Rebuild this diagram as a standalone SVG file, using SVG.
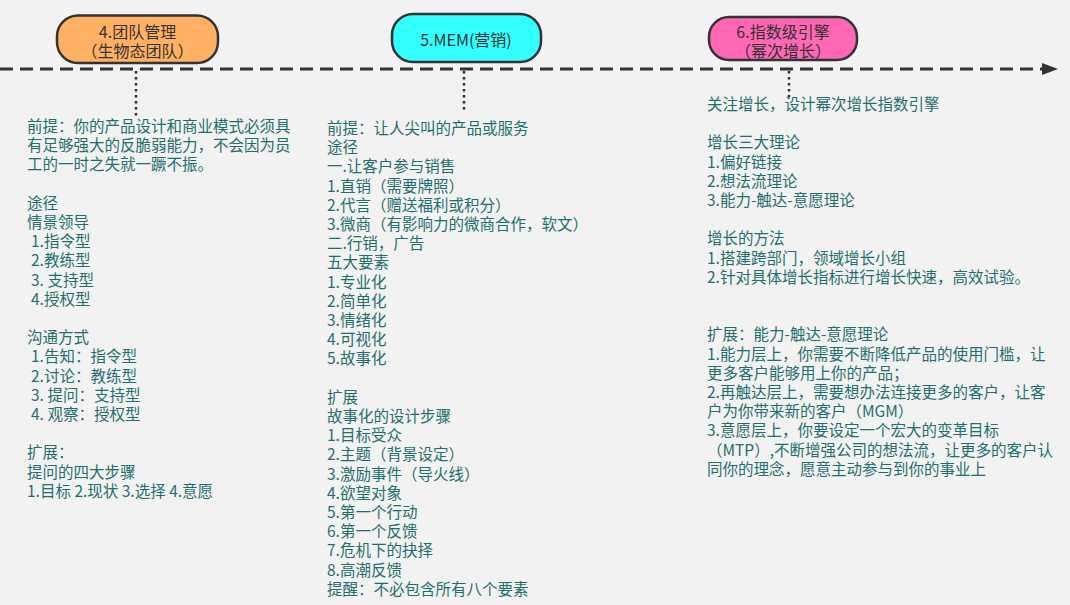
<svg xmlns="http://www.w3.org/2000/svg" width="1070" height="605" viewBox="0 0 1070 605">
<style>
.bg{fill:#f2f2f2}
.node{stroke:#333;stroke-width:2.5}
.nt{font-family:"Noto Sans CJK SC","Liberation Sans",sans-serif;font-size:16px;fill:#333;text-anchor:middle;dominant-baseline:central;text-spacing-trim:space-all}
.t{font-family:"Noto Sans CJK SC","Liberation Sans",sans-serif;font-size:15.5px;fill:#1f6f6f;dominant-baseline:central;text-spacing-trim:space-all}
.dot{stroke:#333;stroke-width:2.5;stroke-dasharray:2.5 3.5;fill:none}
.axis{stroke:#333;stroke-width:3;stroke-dasharray:13 7;fill:none}
</style>
<rect class="bg" x="0" y="0" width="1070" height="605"/>
<g id="connectors">
<line class="axis" x1="0" y1="69" x2="1044" y2="69"/>
<polygon points="1042,63 1058,69 1042,75" fill="#333"/>
<line class="dot" x1="136" y1="71" x2="136" y2="116"/>
<line class="dot" x1="464" y1="71" x2="464" y2="113"/>
<line class="dot" x1="789" y1="71" x2="789" y2="98"/>
</g>
<g id="node4">
<rect class="node" x="57" y="15.5" width="161" height="47.5" rx="21" fill="#ffb062"/>
<text class="nt"><tspan x="137.5" y="31">4.团队管理</tspan><tspan x="137.5" y="50">（生物态团队）</tspan></text>
</g>
<g id="node5">
<rect class="node" x="392" y="14" width="149" height="48" rx="21" fill="#33ffff"/>
<text class="nt" x="466" y="38.5">5.MEM(营销)</text>
</g>
<g id="node6">
<rect class="node" x="709" y="17" width="148" height="43" rx="20" fill="#ff66b3"/>
<text class="nt"><tspan x="783" y="31">6.指数级引擎</tspan><tspan x="783" y="50">（幂次增长）</tspan></text>
</g>
<g id="text4">
<text class="t"><tspan x="27" y="125">前提：你的产品设计和商业模式必须具</tspan><tspan x="27" y="144.2">有足够强大的反脆弱能力，不会因为员</tspan><tspan x="27" y="163.4">工的一时之失就一蹶不振。</tspan><tspan x="27" y="201.8">途径</tspan><tspan x="27" y="221">情景领导</tspan><tspan x="31" y="240.2">1.指令型</tspan><tspan x="31" y="259.4">2.教练型</tspan><tspan x="31" y="278.6">3. 支持型</tspan><tspan x="31" y="297.8">4.授权型</tspan><tspan x="27" y="336.2">沟通方式</tspan><tspan x="31" y="355.4">1.告知：指令型</tspan><tspan x="31" y="374.6">2.讨论：教练型</tspan><tspan x="31" y="393.8">3. 提问：支持型</tspan><tspan x="31" y="413">4. 观察：授权型</tspan><tspan x="27" y="451.4">扩展：</tspan><tspan x="27" y="470.6">提问的四大步骤</tspan><tspan x="27" y="489.8">1.目标 2.现状 3.选择 4.意愿</tspan></text>
</g>
<g id="text5">
<text class="t"><tspan x="327" y="127">前提：让人尖叫的产品或服务</tspan><tspan x="327" y="146.2">途径</tspan><tspan x="327" y="165.4">一.让客户参与销售</tspan><tspan x="327" y="184.6">1.直销（需要牌照）</tspan><tspan x="327" y="203.8">2.代言（赠送福利或积分）</tspan><tspan x="327" y="223">3.微商（有影响力的微商合作，软文）</tspan><tspan x="327" y="242.2">二.行销，广告</tspan><tspan x="327" y="261.4">五大要素</tspan><tspan x="327" y="280.6">1.专业化</tspan><tspan x="327" y="299.8">2.简单化</tspan><tspan x="327" y="319">3.情绪化</tspan><tspan x="327" y="338.2">4.可视化</tspan><tspan x="327" y="357.4">5.故事化</tspan><tspan x="327" y="395.8">扩展</tspan><tspan x="327" y="415">故事化的设计步骤</tspan><tspan x="327" y="434.2">1.目标受众</tspan><tspan x="327" y="453.4">2.主题（背景设定）</tspan><tspan x="327" y="472.6">3.激励事件（导火线）</tspan><tspan x="327" y="491.8">4.欲望对象</tspan><tspan x="327" y="511">5.第一个行动</tspan><tspan x="327" y="530.2">6.第一个反馈</tspan><tspan x="327" y="549.4">7.危机下的抉择</tspan><tspan x="327" y="568.6">8.高潮反馈</tspan><tspan x="327" y="587.8">提醒：不必包含所有八个要素</tspan></text>
</g>
<g id="text6">
<text class="t"><tspan x="707" y="103">关注增长，设计幂次增长指数引擎</tspan><tspan x="707" y="141.4">增长三大理论</tspan><tspan x="707" y="160.6">1.偏好链接</tspan><tspan x="707" y="179.8">2.想法流理论</tspan><tspan x="707" y="199">3.能力-触达-意愿理论</tspan><tspan x="707" y="237.4">增长的方法</tspan><tspan x="707" y="256.6">1.搭建跨部门，领域增长小组</tspan><tspan x="707" y="275.8">2.针对具体增长指标进行增长快速，高效试验。</tspan><tspan x="707" y="333.4">扩展：能力-触达-意愿理论</tspan><tspan x="707" y="352.6">1.能力层上，你需要不断降低产品的使用门槛，让</tspan><tspan x="707" y="371.8">更多客户能够用上你的产品；</tspan><tspan x="707" y="391">2.再触达层上，需要想办法连接更多的客户，让客</tspan><tspan x="707" y="410.2">户为你带来新的客户（MGM）</tspan><tspan x="707" y="429.4">3.意愿层上，你要设定一个宏大的变革目标</tspan><tspan x="707" y="448.6">（MTP）,不断增强公司的想法流，让更多的客户认</tspan><tspan x="707" y="467.8">同你的理念，愿意主动参与到你的事业上</tspan></text>
</g>
</svg>
